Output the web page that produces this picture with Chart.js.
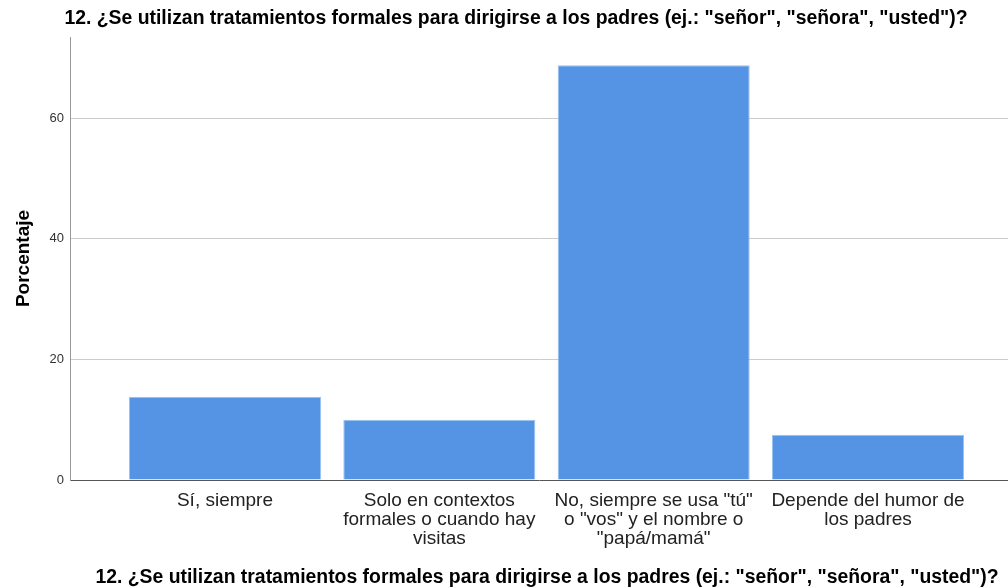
<!DOCTYPE html>
<html>
<head>
<meta charset="utf-8">
<script src="https://cdn.jsdelivr.net/npm/chart.js@4/dist/chart.umd.min.js"></script>
<style>
  html, body { margin: 0; padding: 0; background: #fff; }
  #wrap { width: 1008px; height: 588px; }
</style>
</head>
<body>
<div id="wrap"><canvas id="chart" width="1008" height="588"></canvas></div>
<script>
const titleText = '12. ¿Se utilizan tratamientos formales para dirigirse a los padres (ej.: "señor", "señora", "usted")?';
const categories = [
  ['Sí, siempre'],
  ['Solo en contextos', 'formales o cuando hay', 'visitas'],
  ['No, siempre se usa "tú"', 'o "vos" y el nombre o', '"papá/mamá"'],
  ['Depende del humor de', 'los padres']
];
const percentages = [13.8, 10.0, 68.8, 7.5];
const yTicks = [0, 20, 40, 60];

document.addEventListener('DOMContentLoaded', function(){
  const ctx = document.getElementById('chart');
  const points = percentages.map((v, i) => ({ x: i, y: v }));
  const fam = 'Liberation Sans, Arial, sans-serif';

  // SPSS puts the question both above the plot and under the axis, a bit off-centre
  const titles = {
    id: 'titles',
    afterDraw: function(chart){
      const c = chart.ctx;
      c.save();
      c.font = 'bold 19.4px ' + fam;
      c.fillStyle = '#000';
      c.textAlign = 'center';
      c.textBaseline = 'middle';
      c.fillText(titleText, 516, 19);
      c.fillText(titleText, 547, 578);
      c.restore();
    }
  };

  new Chart(ctx.getContext('2d'), {
    type: 'bar',
    data: {
      datasets: [{
        label: 'Porcentaje',
        data: points,
        backgroundColor: '#5594e4',
        borderColor: '#9cc2f0',
        borderWidth: 1,
        borderSkipped: 'bottom',
        categoryPercentage: 1,
        barPercentage: 0.896
      }]
    },
    plugins: [titles],
    options: {
      responsive: false,
      animation: false,
      layout: { padding: { top: 37, left: 0, right: 0, bottom: 0 } },
      plugins: {
        legend: { display: false },
        tooltip: { enabled: false },
        title: { display: false }
      },
      scales: {
        x: {
          type: 'linear',
          offset: false,
          min: -0.723,
          max: 3.653,
          afterFit: function(scale){ scale.height = 108; },
          grid: { display: false, drawTicks: false, offset: false },
          border: { display: true, color: '#555', width: 1 },
          ticks: {
            stepSize: 1,
            includeBounds: false,
            autoSkip: false,
            maxRotation: 0,
            padding: 11,
            color: '#222',
            font: { family: fam, size: 19, lineHeight: 1.0 },
            callback: function(v){ return Number.isInteger(v) && categories[v] ? categories[v] : ''; }
          }
        },
        y: {
          min: 0,
          max: 73.5,
          afterFit: function(scale){ scale.width = 70; },
          afterBuildTicks: function(scale){ scale.ticks = yTicks.map(v => ({ value: v })); },
          grid: {
            drawTicks: false,
            color: function(c){ return c.tick && c.tick.value === 0 ? 'rgba(0,0,0,0)' : '#cccccc'; }
          },
          border: { display: true, color: '#999', width: 1 },
          ticks: {
            padding: 6,
            color: '#333',
            font: { family: fam, size: 13 }
          },
          title: {
            display: true,
            text: 'Porcentaje',
            color: '#000',
            font: { family: fam, size: 19, weight: 'bold', lineHeight: 1.2 },
            padding: { top: 12, bottom: 0 }
          }
        }
      }
    }
  });
});
</script>
</body>
</html>
